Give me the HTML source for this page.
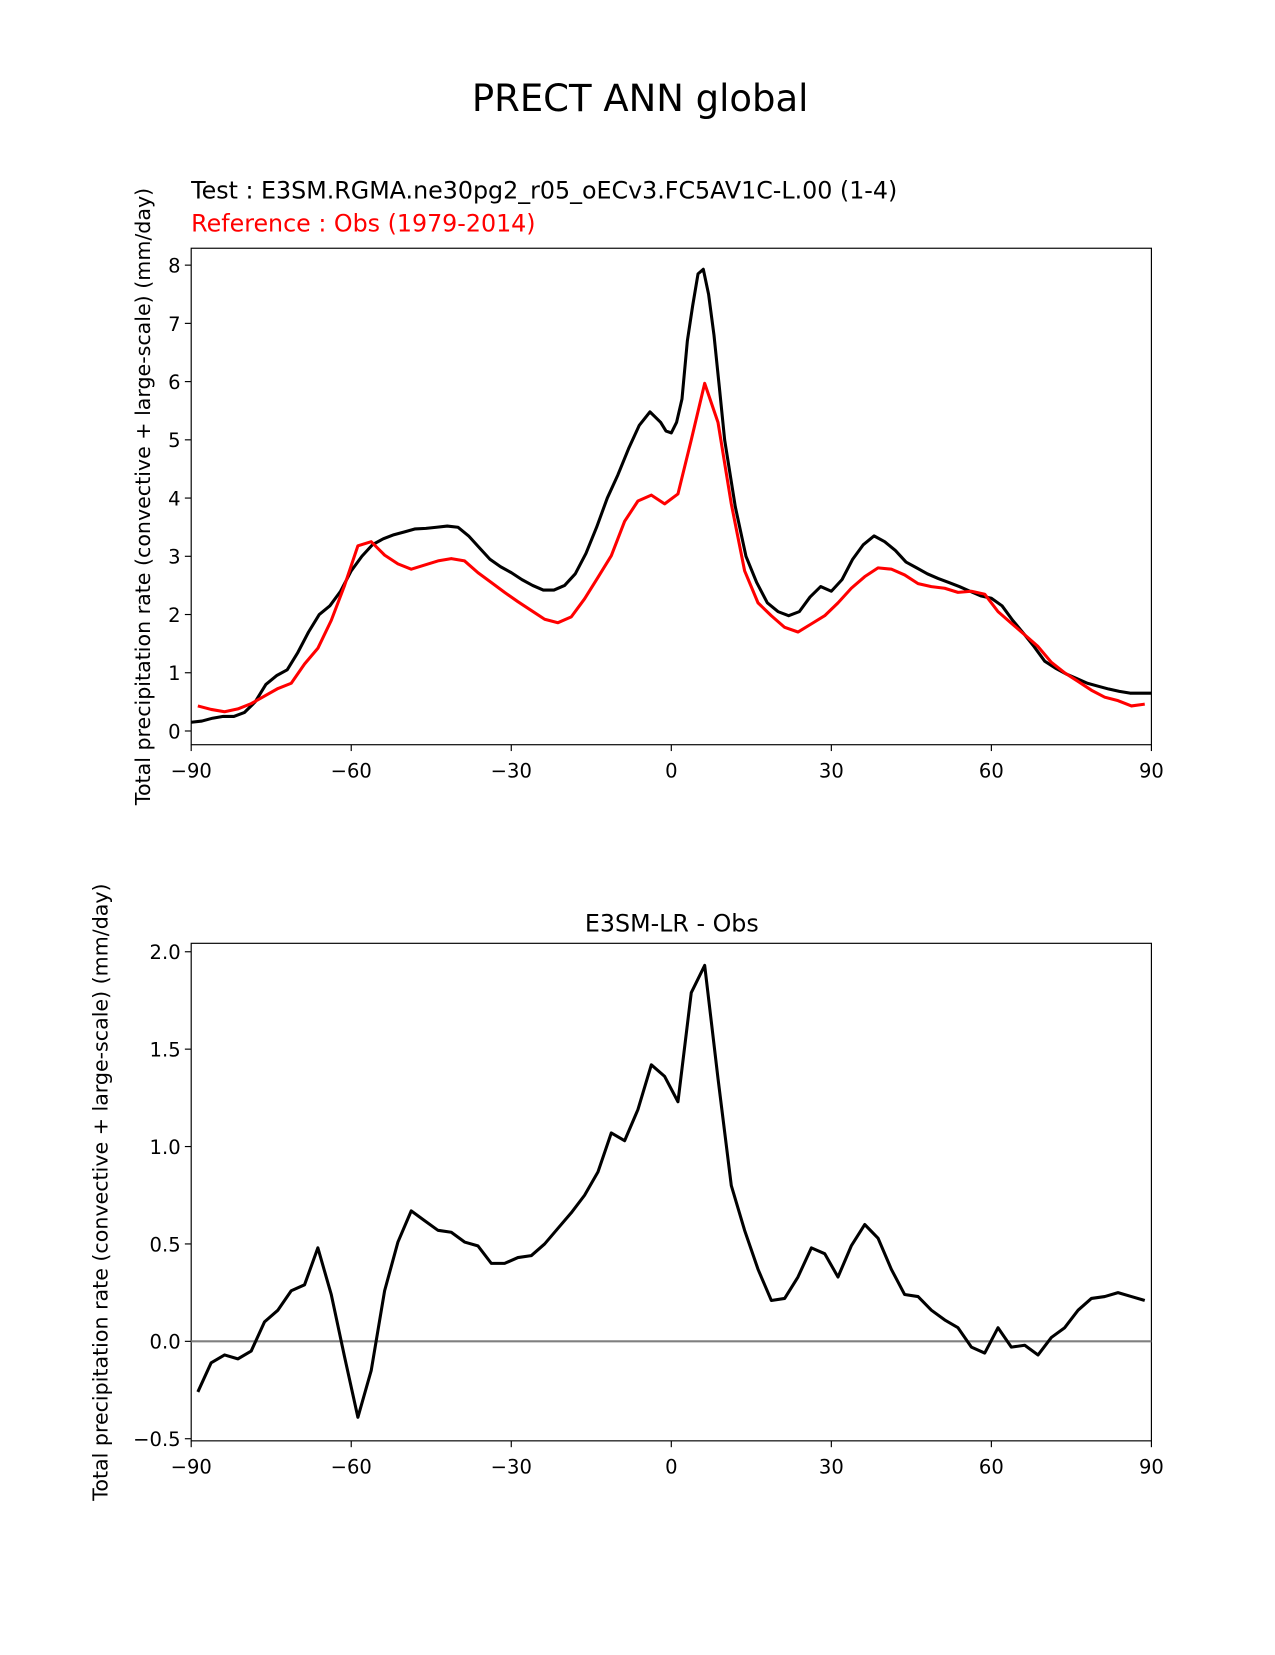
<!DOCTYPE html>
<html><head><meta charset="utf-8"><style>
body{margin:0;background:#fff;}
svg text{font-family:"DejaVu Sans","Liberation Sans",sans-serif;}
</style></head><body>
<svg id="fig" width="1275" height="1650" viewBox="0 0 1207 1562" xmlns="http://www.w3.org/2000/svg">
<rect width="1207" height="1562" fill="#fff"/>
<text x="606" y="105" font-size="35" text-anchor="middle">PRECT ANN global</text>
<text x="181" y="188" font-size="22.5">Test : E3SM.RGMA.ne30pg2_r05_oECv3.FC5AV1C-L.00 (1-4)</text>
<text x="181" y="219" font-size="22.5" fill="red">Reference : Obs (1979-2014)</text>
<text x="636" y="882" font-size="22.5" text-anchor="middle">E3SM-LR - Obs</text>
<g id="top"></g>
<g id="bot"></g>
</svg>
<script>
const xTicks=[-90,-60,-30,0,30,60,90];
const topYTicks=[0,1,2,3,4,5,6,7,8];
const botYTicks=[-0.5,0.0,0.5,1.0,1.5,2.0];
const obsLat=[-88.75,-86.25,-83.75,-81.25,-78.75,-76.25,-73.75,-71.25,-68.75,-66.25,-63.75,-61.25,-58.75,-56.25,-53.75,-51.25,-48.75,-46.25,-43.75,-41.25,-38.75,-36.25,-33.75,-31.25,-28.75,-26.25,-23.75,-21.25,-18.75,-16.25,-13.75,-11.25,-8.75,-6.25,-3.75,-1.25,1.25,3.75,6.25,8.75,11.25,13.75,16.25,18.75,21.25,23.75,26.25,28.75,31.25,33.75,36.25,38.75,41.25,43.75,46.25,48.75,51.25,53.75,56.25,58.75,61.25,63.75,66.25,68.75,71.25,73.75,76.25,78.75,81.25,83.75,86.25,88.75];
const obsVal=[0.43,0.37,0.33,0.38,0.47,0.6,0.73,0.82,1.15,1.42,1.9,2.5,3.18,3.25,3.02,2.87,2.78,2.85,2.92,2.96,2.92,2.72,2.55,2.38,2.22,2.07,1.92,1.86,1.96,2.27,2.64,3.01,3.6,3.95,4.05,3.9,4.07,5.0,5.97,5.3,3.9,2.75,2.2,1.98,1.78,1.7,1.84,1.98,2.2,2.45,2.65,2.8,2.78,2.68,2.53,2.48,2.45,2.38,2.4,2.35,2.05,1.85,1.65,1.45,1.18,1.0,0.85,0.7,0.58,0.52,0.43,0.46];
const testLat=[-90,-88,-86,-84,-82,-80,-78,-76,-74,-72,-70,-68,-66,-64,-62,-60,-58,-56,-54,-52,-50,-48,-46,-44,-42,-40,-38,-36,-34,-32,-30,-28,-26,-24,-22,-20,-18,-16,-14,-12,-10,-8,-6,-4,-2,-1,0,1,2,3,4,5,6,7,8,9,10,12,14,16,18,20,22,24,26,28,30,32,34,36,38,40,42,44,46,48,50,52,54,56,58,60,62,64,66,68,70,72,74,76,78,80,82,84,86,88,90];
const testVal=[0.15,0.17,0.22,0.25,0.25,0.32,0.5,0.8,0.95,1.05,1.35,1.7,2.0,2.15,2.4,2.75,3.0,3.2,3.3,3.37,3.42,3.47,3.48,3.5,3.52,3.5,3.35,3.15,2.95,2.82,2.72,2.6,2.5,2.42,2.42,2.5,2.7,3.05,3.5,4.0,4.4,4.85,5.25,5.48,5.3,5.15,5.12,5.3,5.7,6.7,7.3,7.85,7.93,7.5,6.8,5.9,5.0,3.85,3.0,2.55,2.2,2.05,1.98,2.05,2.3,2.48,2.4,2.6,2.95,3.2,3.35,3.25,3.1,2.9,2.8,2.7,2.62,2.55,2.48,2.4,2.32,2.28,2.15,1.9,1.68,1.45,1.2,1.08,0.98,0.9,0.82,0.77,0.72,0.68,0.65,0.65,0.65];
const diffVal=[-0.26,-0.11,-0.07,-0.09,-0.05,0.10,0.16,0.26,0.29,0.48,0.24,-0.08,-0.39,-0.15,0.26,0.51,0.67,0.62,0.57,0.56,0.51,0.49,0.40,0.40,0.43,0.44,0.50,0.58,0.66,0.75,0.87,1.07,1.03,1.19,1.42,1.36,1.23,1.79,1.93,1.35,0.80,0.57,0.37,0.21,0.22,0.33,0.48,0.45,0.33,0.49,0.60,0.53,0.37,0.24,0.23,0.16,0.11,0.07,-0.03,-0.06,0.07,-0.03,-0.02,-0.07,0.02,0.07,0.16,0.22,0.23,0.25,0.23,0.21];

const NS='http://www.w3.org/2000/svg';
function mk(p,t,a){const e=document.createElementNS(NS,t);for(const k in a)e.setAttribute(k,a[k]);p.appendChild(e);return e;}
const X0=181,X1=1090;
function xs(v){return X0+(v+90)/180*(X1-X0);}
function fmt(v,d){return (v<0?'\u2212':'')+Math.abs(v).toFixed(d);}

function chart(g,top,bot,ymin,ymax,y0px,y1px,yt,dec,ylabel,labelX){
  const ys=v=>y0px+(v-ymin)/(ymax-ymin)*(y1px-y0px);
  const frame=mk(g,'rect',{x:X0,y:top,width:X1-X0,height:bot-top,fill:'none',stroke:'#000','stroke-width':1.1});
  
  
  xTicks.forEach(t=>{
    const l=mk(g,'line',{x1:xs(t),x2:xs(t),y1:bot,y2:bot+6,stroke:'#000','stroke-width':1.1});
    
    
    const tx=mk(g,'text',{x:xs(t),y:bot+31,'font-size':18.5,'text-anchor':'middle'});
    tx.textContent=fmt(t,0);
    
    
  });
  yt.forEach(t=>{
    const l=mk(g,'line',{x1:X0-6,x2:X0,y1:ys(t),y2:ys(t),stroke:'#000','stroke-width':1.1});
    
    
    const tx=mk(g,'text',{x:X0-10,y:ys(t)+7,'font-size':18.5,'text-anchor':'end'});
    tx.textContent=fmt(t,dec);
    
    
  });
  const yl=mk(g,'text',{x:labelX,y:(top+bot)/2,'font-size':19.5,'text-anchor':'middle',transform:`rotate(-90 ${labelX} ${(top+bot)/2})`});
  yl.textContent=ylabel;
  
  
  return ys;
}
function line(g,lats,vals,ys,color,name){
  const d=lats.map((la,i)=>(i?'L':'M')+xs(la).toFixed(1)+','+ys(vals[i]).toFixed(1)).join(' ');
  const p=mk(g,'path',{d:d,fill:'none',stroke:color,'stroke-width':2.9,'stroke-linejoin':'round'});
  
  
}
const lbl='Total precipitation rate (convective + large-scale) (mm/day)';
const gt=document.getElementById('top');
const ysT=chart(gt,235,705,0,8,692,251,topYTicks,0,lbl,142);
line(gt,testLat,testVal,ysT,'#000','test-line');
line(gt,obsLat,obsVal,ysT,'red','reference-line');
const gb=document.getElementById('bot');
const ysB=chart(gb,893,1364,-0.5,2.0,1362,901,botYTicks,1,lbl,102);
const z=mk(gb,'line',{x1:X0,x2:X1,y1:ysB(0),y2:ysB(0),stroke:'#808080','stroke-width':2});


line(gb,obsLat,diffVal,ysB,'#000','difference-line');
</script>
</body></html>
